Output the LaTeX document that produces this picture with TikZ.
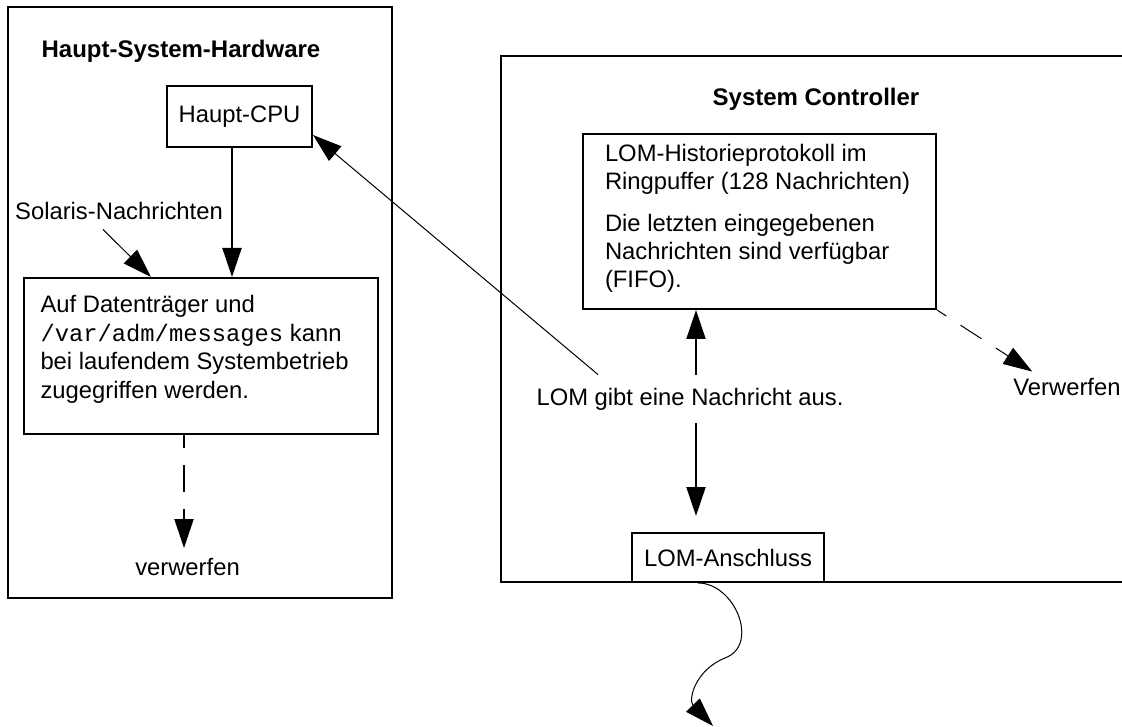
\documentclass[tikz,border=0pt]{standalone}
\usepackage{fontspec}
\setmainfont{Liberation Sans}
\setmonofont{Liberation Mono}
\usetikzlibrary{arrows.meta}
\begin{document}
\begin{tikzpicture}[x=1pt,y=-1pt,
  txt/.style={font=\fontsize{23.8pt}{28.5pt}\selectfont, inner sep=2pt},
  ttl/.style={font=\fontsize{24pt}{28pt}\selectfont\bfseries, inner sep=2pt},
  boxline/.style={draw, line width=2pt},
  heavy/.style={line width=2pt},
  light/.style={line width=1pt},
  tipped/.style={-{Triangle[length=29pt,width=19pt]}},
  dashleft/.style={dash pattern=on 27pt off 17pt, dash phase=14pt},
  dashright/.style={dash pattern=on 25pt off 17pt, dash phase=14pt},
]
\useasboundingbox (0,0) rectangle (1122,727);

% ---- left container: Haupt-System-Hardware
\draw[line width=2pt] (8,7) rectangle (392,598);
\node[ttl, anchor=base] (hwtitle) at (181,58) {Haupt-System-Hardware};
\node[boxline, txt, minimum width=145pt, minimum height=61pt] (cpu) at (239.5,116.5) {Haupt-CPU};
\node[txt, anchor=base] (sol) at (119,220) {Solaris-Nachrichten};
\node[boxline, txt, inner sep=0pt, minimum width=354pt, minimum height=156pt] (disk) at (200.5,356)
  {\parbox[c][121pt][t]{320pt}{\raggedright Auf Datenträger und\\
   \texttt{/var/adm/messages} kann\\
   bei laufendem Systembetrieb\\
   zugegriffen werden.}};
\node[txt, anchor=base] (verw1) at (187.5,575) {verwerfen};

% ---- right container: System Controller (open on the right)
\draw[line width=2pt] (1122,56) -- (501,56) -- (501,582) -- (1122,582);
\node[ttl, anchor=base] (sctitle) at (816,106) {System Controller};
\node[boxline, txt, inner sep=0pt, minimum width=353pt, minimum height=175pt] (hist) at (759.5,221.5)
  {\parbox[c][154pt][t]{309pt}{\raggedright\baselineskip=28pt LOM-Historieprotokoll im\\
   Ringpuffer (128 Nachrichten)\\[14pt]
   Die letzten eingegebenen\\
   Nachrichten sind verfügbar\\
   (FIFO).}};
\node[txt, anchor=base, inner ysep=13pt] (lom) at (690,405) {LOM gibt eine Nachricht aus.};
\node[txt, anchor=base] (verw2) at (1067,395) {Verwerfen};
\node[boxline, fill=white, txt, minimum width=192pt, minimum height=49pt] (port) at (728,557.5) {LOM-Anschluss};

% ---- connectors
\coordinate (cA) at ([xshift=-7.5pt]cpu.south);
\draw[heavy, tipped] (cA) -- (cA |- disk.north);

\draw[light, tipped] ([xshift=-16pt,yshift=-7pt]sol.south) -- ([xshift=-49.5pt]disk.north);

\coordinate (dA) at ([xshift=-16.5pt]disk.south);
\draw[heavy, tipped, dashleft, shorten >=7.5pt] (dA) -- (dA |- verw1.north);

\coordinate (diagA) at ([xshift=-92pt]lom.north);
\draw[light, tipped] (diagA) -- ([yshift=-18.5pt]cpu.east);

\coordinate (upA) at ([xshift=6pt]lom.north);
\draw[heavy, tipped] (upA) -- (upA |- hist.south);

\coordinate (dnA) at ([xshift=6pt]lom.south);
\draw[heavy, tipped, shorten >=16pt] (dnA) -- (dnA |- port.north);

\draw[light, tipped, dashright] (hist.south east) -- ([xshift=21pt,yshift=4pt]verw2.north west);

\coordinate (wEnd) at (713,726);
\draw[light, tipped] ([xshift=-30pt]port.south) .. controls (735,583) and (760,645) .. (725,658)
  .. controls (695,670) and (688,700) .. (wEnd);
\end{tikzpicture}
\end{document}
